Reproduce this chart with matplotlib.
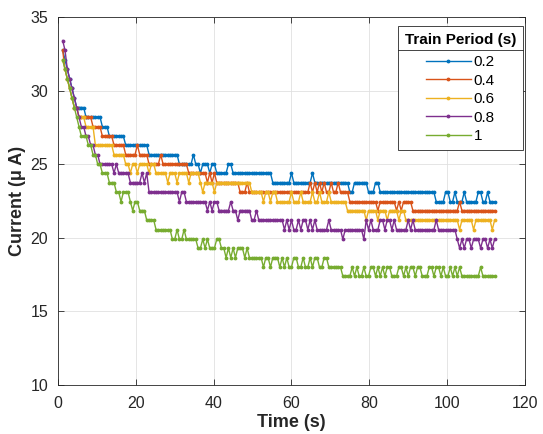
import numpy as np
import matplotlib
matplotlib.use('Agg')
import matplotlib.pyplot as plt
from matplotlib.lines import Line2D

plt.rcParams['font.family'] = ['Liberation Sans', 'DejaVu Sans']

# sample times (s)
t = np.round(np.arange(1.2, 112.3, 0.6), 1)

periods = ['0.2', '0.4', '0.6', '0.8', '1']
colors = ['#0072BD', '#D95319', '#EDB120', '#7E2F8E', '#77AC30']

# (time up to which level holds, level in uA)
steps_02 = [(1.2, 32.75), (1.8, 32.1), (2.4, 31.45), (3.0, 30.8), (3.6, 30.15), (4.2, 29.5),
            (6.6, 28.85), (10.8, 28.2), (12.6, 27.55), (16.2, 26.9), (22.8, 26.3), (30.6, 25.65),
            (38.4, 25.0), (54.6, 24.4), (74.4, 23.75), (76.0, 23.1), (79.2, 23.75), (81.0, 23.1),
            (82.6, 23.75), (96.6, 23.1), (113.0, 22.45)]
spikes_02 = [(16.8, 26.9), (34.8, 25.65), (36.6, 24.4), (39.6, 25.0), (40.2, 25.0), (43.8, 25.0),
             (44.4, 25.0), (59.8, 24.4), (65.4, 24.4), (99.6, 23.1), (100.2, 23.1), (102.0, 23.1),
             (104.4, 23.1), (108.0, 23.1), (108.6, 23.1), (110.4, 23.1)]

steps_04 = [(1.2, 32.75), (1.8, 31.45), (2.4, 30.8), (3.0, 30.15), (3.6, 29.5), (5.0, 28.85),
            (8.6, 28.2), (11.0, 27.55), (14.0, 26.9), (17.2, 26.3), (23.0, 25.65), (33.0, 25.0),
            (40.6, 24.4), (46.4, 23.75), (74.6, 23.1), (91.0, 22.45), (113.0, 21.85)]
spikes_04 = [(20.6, 26.3), (26.4, 25.65), (38.4, 23.75), (39.6, 23.75), (48.9, 23.75),
             (65.0, 23.75), (66.2, 23.75), (67.4, 23.75), (68.6, 23.75), (70.4, 23.75),
             (72.2, 23.75), (82.0, 21.85), (87.0, 21.85), (88.2, 21.85), (103.4, 22.45)]

steps_06 = [(1.2, 32.1), (1.8, 31.45), (2.4, 30.8), (3.0, 30.15), (3.6, 29.5), (4.8, 28.85),
            (6.6, 28.2), (9.4, 27.55), (14.2, 26.3), (17.0, 25.65), (24.6, 25.0), (36.0, 24.4),
            (49.4, 23.75), (55.8, 23.1), (74.0, 22.45), (88.8, 21.85), (113.0, 21.2)]
spikes_06 = [(18.4, 24.4), (20.6, 24.4), (23.4, 24.4), (28.2, 23.75), (30.4, 23.75),
             (33.8, 23.75), (37.4, 23.1), (40.4, 23.1), (52.8, 22.45), (54.9, 22.45),
             (60.0, 23.1), (62.4, 23.1), (65.6, 23.1), (67.0, 23.1), (69.4, 23.1), (79.4, 21.2),
             (82.4, 21.2), (84.8, 21.2), (87.6, 21.2), (103.4, 20.55), (106.8, 20.55), (111.6, 20.55)]

steps_08 = [(1.2, 33.4), (1.8, 32.75), (2.4, 31.45), (3.0, 30.8), (3.6, 30.15), (4.2, 29.5),
            (4.8, 28.85), (5.4, 28.2), (6.6, 27.55), (7.8, 26.9), (9.0, 26.3), (10.2, 25.65),
            (13.4, 25.0), (18.4, 24.4), (22.8, 23.75), (31.0, 23.1), (40.8, 22.45), (49.4, 21.85),
            (62.0, 21.2), (102.0, 20.55), (113.0, 19.9)]
spikes_08 = [(14.1, 25.0), (15.0, 25.0), (21.9, 24.4), (22.6, 24.4), (31.6, 23.1), (32.2, 23.1),
             (38.2, 21.85), (39.4, 21.85), (44.2, 22.45), (46.4, 21.2), (51.1, 21.85),
             (58.0, 20.55), (59.2, 20.55), (60.4, 20.55), (61.0, 20.55), (62.8, 21.2), (63.4, 21.2),
             (65.0, 21.2), (66.2, 21.2), (69.4, 21.2), (73.3, 19.9), (78.6, 19.9), (79.2, 21.2),
             (80.4, 21.2), (82.8, 21.2), (83.6, 21.2), (84.8, 21.2), (85.4, 21.2), (86.6, 21.2),
             (89.8, 21.2), (91.0, 21.2), (97.0, 21.2), (103.0, 19.3), (104.4, 19.3), (106.2, 19.3),
             (108.6, 19.3), (110.4, 19.3), (111.6, 19.3)]

steps_1 = [(1.2, 32.1), (1.8, 31.45), (2.4, 30.8), (3.0, 30.15), (3.6, 29.5), (4.2, 28.85),
           (4.8, 28.2), (5.4, 27.55), (7.2, 26.9), (8.4, 26.3), (9.6, 25.65), (10.8, 25.0),
           (12.6, 24.4), (14.6, 23.75), (18.0, 23.1), (20.6, 22.45), (22.2, 21.85), (25.0, 21.2),
           (32.6, 20.55), (37.2, 19.9), (47.6, 19.3), (69.0, 18.65), (73.0, 18.0), (113.0, 17.4)]
spikes_1 = [(15.9, 22.45), (19.3, 21.85), (29.6, 19.9), (30.2, 19.9), (31.4, 19.9), (32.0, 19.9),
            (36.0, 19.3), (36.6, 19.3), (38.4, 19.9), (40.8, 19.9), (41.4, 19.9), (43.0, 18.65),
            (44.2, 18.65), (45.4, 18.65), (48.5, 19.3), (52.8, 18.0), (54.9, 18.0), (57.1, 18.0),
            (58.3, 18.0), (59.1, 18.0), (60.0, 18.0), (61.7, 18.0), (62.5, 18.0), (63.4, 18.0),
            (64.2, 18.0), (65.5, 18.0), (67.2, 18.0), (68.0, 18.0), (75.5, 18.0), (76.8, 18.0),
            (78.5, 18.0), (80.2, 18.0), (81.1, 18.0), (82.4, 18.0), (83.2, 18.0), (84.5, 18.0),
            (85.4, 18.0), (87.5, 18.0), (88.4, 18.0), (89.2, 18.0), (90.5, 18.0), (91.4, 18.0),
            (92.2, 18.0), (93.1, 18.0), (95.2, 18.0), (96.1, 18.0), (96.9, 18.0), (97.8, 18.0),
            (99.1, 18.0), (100.8, 18.0), (102.1, 18.0), (103.4, 18.0), (108.5, 18.0)]

all_steps = [steps_02, steps_04, steps_06, steps_08, steps_1]
all_spikes = [spikes_02, spikes_04, spikes_06, spikes_08, spikes_1]


def build(steps, spikes):
    ends = np.array([s[0] for s in steps])
    lv = np.array([s[1] for s in steps])
    v = lv[np.minimum(np.searchsorted(ends, t - 1e-9), len(lv) - 1)]
    for ts, l in spikes:
        v[np.abs(t - ts).argmin()] = l
    return v


fig = plt.figure(figsize=(5.43, 4.34), dpi=100)
ax = fig.add_axes([0.1068, 0.1129, 0.86, 0.848])

for lab, c, st, sp in zip(periods, colors, all_steps, all_spikes):
    ax.plot(t, build(st, sp), '.-', color=c, lw=1.0, ms=3.5, label=lab)

ax.set_xlim(0, 120)
ax.set_ylim(10, 35)
ax.set_xticks(np.arange(0, 121, 20))
ax.set_yticks(np.arange(10, 36, 5))
ax.grid(True, color='#e0e0e0', lw=0.6)
ax.set_axisbelow(True)
ax.tick_params(direction='in', top=True, right=True, length=4, width=0.6,
               labelsize=11.5, colors='#262626')
ax.tick_params(axis='x', pad=8)
ax.tick_params(axis='y', pad=7)
for s in ax.spines.values():
    s.set_color('#262626')
    s.set_linewidth(0.6)
ax.set_xlabel('Time (s)', fontsize=13, fontweight='bold', color='#262626', labelpad=2)
ax.set_ylabel('Current (μ A)', fontsize=13, fontweight='bold', color='#262626', labelpad=3)

leg = ax.legend(loc='upper right', bbox_to_anchor=(0.996, 0.976), borderaxespad=0,
                title='Train Period (s)', fontsize=11, handlelength=2.9,
                numpoints=1, fancybox=False, framealpha=1, edgecolor='#262626',
                labelspacing=0.3, handletextpad=0.2, borderpad=0.45,
                alignment='center')
leg.get_title().set_fontweight('bold')
leg.get_title().set_fontsize(11)
leg.get_frame().set_linewidth(0.6)
leg._legend_box.sep = 6

fig.canvas.draw()
fb = leg.get_frame().get_window_extent()
tb = leg.get_title().get_window_extent()
inv = fig.transFigure.inverted()
(x0, yy), (x1, _) = inv.transform([(fb.x0, tb.y0 - 3), (fb.x1, tb.y0 - 3)])
fig.add_artist(Line2D([x0, x1], [yy, yy], color='#262626', lw=0.6))

fig.savefig('out.png', dpi=100)
